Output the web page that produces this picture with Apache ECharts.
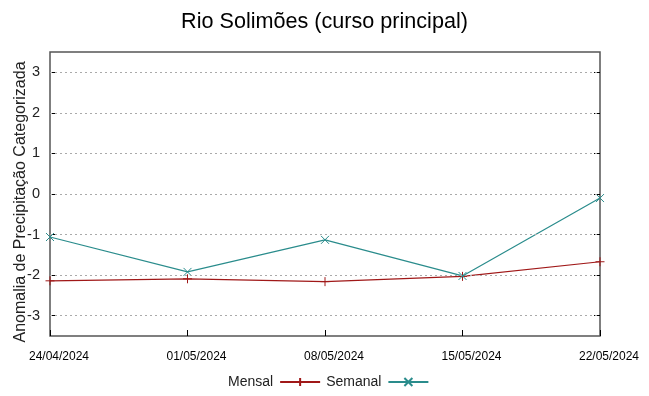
<!DOCTYPE html>
<html><head><meta charset="utf-8">
<script src="https://cdn.jsdelivr.net/npm/echarts@6/dist/echarts.min.js"></script>
<style>html,body{margin:0;padding:0;background:#fff}#c{width:649px;height:396px}</style>
</head><body><div id="c"></div>
<script>
const categories = ['24/04/2024','01/05/2024','08/05/2024','15/05/2024','22/05/2024'];
const mensal = [-2.14, -2.09, -2.16, -2.03, -1.67];
const semanal = [-1.06, -1.92, -1.13, -2.02, -0.10];
const yTicks = [-3,-2,-1,0,1,2,3];

const FONT = 'Liberation Sans';
const plus = 'path://M0,-5L0,5M-5,0L5,0';
const cross = 'path://M-5,-5L5,5M-5,5L5,-5';
const chart = echarts.init(document.getElementById('c'));
chart.setOption({
  animation:false,
  textStyle:{fontFamily:FONT},
  title:{text:'Rio Solimões (curso principal)',left:'center',top:6,textStyle:{fontFamily:FONT,fontSize:21.6,fontWeight:'normal',color:'#000'}},
  grid:{left:50,right:49,top:52,bottom:60,show:true,borderColor:'#555',borderWidth:1.5,containLabel:false,outerBoundsMode:'none'},
  legend:{bottom:2,left:223,align:'right',itemWidth:40,itemHeight:10,itemGap:5,
    textStyle:{fontFamily:FONT,fontSize:14,color:'#222',padding:[0,2,0,0]},
    data:['Mensal','Semanal']},
  xAxis:[{type:'category',data:categories,boundaryGap:false,
    axisLine:{show:false,onZero:false},axisTick:{show:true,inside:true,length:6,lineStyle:{color:'#000'}},
    axisLabel:{fontSize:12,color:'#000',margin:15,fontFamily:FONT,padding:[0,0,0,18]},splitLine:{show:false}},
    {type:'category',data:categories,boundaryGap:false,position:'top',
    axisLine:{show:false,onZero:false},axisTick:{show:false},
    axisLabel:{show:false},splitLine:{show:false}}],
  yAxis:[{type:'value',min:-3.5,max:3.5,
    name:'Anomalia de Precipitação Categorizada',nameLocation:'middle',nameGap:21,nameMoveOverlap:false,
    nameTextStyle:{fontSize:16,color:'#222',fontFamily:FONT,padding:[0,16,0,0]},
    axisLine:{show:false,onZero:false},
    axisTick:{show:true,inside:true,length:6,lineStyle:{color:'#000'},customValues:yTicks},
    axisLabel:{fontSize:14.5,color:'#222',margin:10,fontFamily:FONT,customValues:yTicks},
    splitLine:{show:false}},
    {type:'value',min:-3.5,max:3.5,position:'right',
    axisLine:{show:false,onZero:false},axisTick:{show:true,inside:true,length:6,lineStyle:{color:'#000'},customValues:yTicks},
    axisLabel:{show:false,customValues:yTicks},splitLine:{show:false}}],
  series:[
    {name:'Mensal',type:'line',data:mensal,symbol:plus,symbolSize:9,showAllSymbol:true,
      lineStyle:{color:'#a01818',width:1.2},
      itemStyle:{color:'#a01818',borderColor:'#a01818',borderWidth:1},
      markLine:{silent:true,symbol:'none',label:{show:false},animation:false,
        lineStyle:{color:'#aaa',type:[2,3],width:1},
        data:yTicks.map(v=>({yAxis:v}))},
      z:3},
    {name:'Semanal',type:'line',data:semanal,symbol:cross,symbolSize:8,
      lineStyle:{color:'#2a8c8c',width:1.2},
      itemStyle:{color:'#2a8c8c',borderColor:'#2a8c8c',borderWidth:1},z:4}
  ]
});
</script></body></html>
